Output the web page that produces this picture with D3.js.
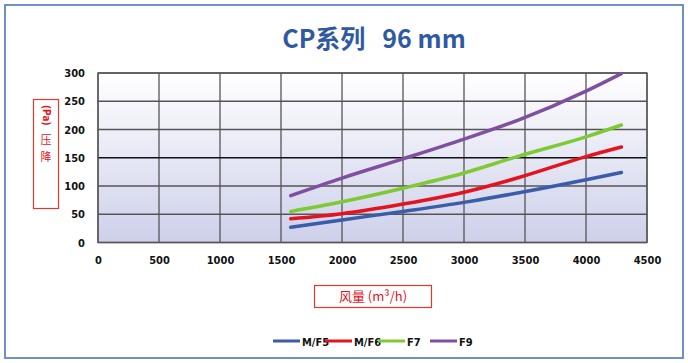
<!DOCTYPE html>
<html><head><meta charset="utf-8">
<script src="https://cdn.jsdelivr.net/npm/d3@7"></script>
<style>
html,body{margin:0;padding:0;background:#fff;}
svg text{font-family:"Liberation Sans Narrow","DejaVu Sans Condensed","Noto Sans CJK SC",sans-serif;font-weight:bold;}
</style></head>
<body><svg id="c" width="688" height="363"></svg>
<script>
const title = "CP系列   96 mm";
const xLabel = "风量 (m³/h)";
const yLabelUnit = "(Pa)";
const yLabelChars = ["压","降"];
const xTicks = [0,500,1000,1500,2000,2500,3000,3500,4000,4500];
const yTicks = [0,50,100,150,200,250,300];
const flow = [1580,2000,2500,3000,3450,4000,4290];
const seriesNames = ["M/F5","M/F6","F7","F9"];
const mf5 = [27,40,55,71,88,111,124];
const mf6 = [42,51,68,89,115,152,169];
const f7  = [55,72,96,123,153,187,208];
const f9  = [83,114,148,183,217,268,299];
const colors = ["#3b5ca8","#e3141f","#7fc934","#8050a0"];
const seriesData = [mf5,mf6,f7,f9];

const svg = d3.select("#c");
svg.append("rect").attr("x",5).attr("y",5).attr("width",678).attr("height",353)
  .attr("fill","#fff").attr("stroke","#7390c6").attr("stroke-width",2);

const x = d3.scaleLinear().domain([0,4500]).range([98,647]);
const y = d3.scaleLinear().domain([0,300]).range([242.5,73]);

const defs = svg.append("defs");
const g = defs.append("linearGradient").attr("id","bg").attr("x1",0).attr("y1",0).attr("x2",0).attr("y2",1);
g.append("stop").attr("offset","0%").attr("stop-color","#ffffff");
g.append("stop").attr("offset","100%").attr("stop-color","#cdd0ea");

svg.append("rect").attr("x",x(0)).attr("y",y(300)).attr("width",x(4500)-x(0)).attr("height",y(0)-y(300))
  .attr("fill","url(#bg)");

// grid
svg.append("g").selectAll("line").data(xTicks).join("line")
  .attr("x1",d=>x(d)).attr("x2",d=>x(d)).attr("y1",y(0)).attr("y2",y(300))
  .attr("stroke","#555").attr("stroke-width",1.3);
svg.append("g").selectAll("line").data(yTicks).join("line")
  .attr("x1",x(0)).attr("x2",x(4500)).attr("y1",d=>y(d)).attr("y2",d=>y(d))
  .attr("stroke",d=>d===150?"#111":"#555").attr("stroke-width",1.3);
svg.append("rect").attr("x",x(0)).attr("y",y(300)).attr("width",x(4500)-x(0)).attr("height",y(0)-y(300))
  .attr("fill","none").attr("stroke","#555").attr("stroke-width",1.3);

// axes labels via d3 axes
const xa = svg.append("g").attr("transform",`translate(0,${y(0)})`)
  .call(d3.axisBottom(x).tickValues(xTicks).tickSize(0).tickPadding(14).tickFormat(d3.format("d")));
xa.select(".domain").remove();
xa.selectAll("text").attr("font-size",11).attr("fill","#111").style("font-family",'"Liberation Sans Narrow","DejaVu Sans Condensed",sans-serif');
const ya = svg.append("g").attr("transform",`translate(${x(0)},0)`)
  .call(d3.axisLeft(y).tickValues(yTicks).tickSize(0).tickPadding(13).tickFormat(d3.format("d")));
ya.select(".domain").remove();
ya.selectAll("text").attr("font-size",11).attr("fill","#111").style("font-family",'"Liberation Sans Narrow","DejaVu Sans Condensed",sans-serif');

// lines
const line = d3.line().x((d,i)=>x(flow[i])).y(d=>y(d)).curve(d3.curveMonotoneX);
seriesData.forEach((s,k)=>{
  svg.append("path").attr("d",line(s)).attr("fill","none").attr("stroke",colors[k])
    .attr("stroke-width",3.5).attr("stroke-linecap","round");
});

// title
svg.append("text").attr("x",374).attr("y",48).attr("text-anchor","middle")
  .attr("font-size",25).attr("fill","#2f59a3").attr("xml:space","preserve")
  .style("font-family",'"Liberation Sans Narrow","Noto Sans CJK SC",sans-serif').text(title);

// y label box
svg.append("rect").attr("x",33.5).attr("y",99.5).attr("width",25).attr("height",109)
  .attr("fill","#fff").attr("stroke","#e03a2a").attr("stroke-width",1.2);
svg.append("text").attr("transform","translate(42.5,105) rotate(90)").attr("font-size",10)
  .attr("fill","#e0141e").text(yLabelUnit);
const yl = svg.append("text").attr("text-anchor","middle").attr("font-size",11)
  .attr("fill","#e0141e").style("font-family",'"Noto Sans CJK SC",sans-serif').style("font-weight","normal");
yLabelChars.forEach((c,i)=>{
  yl.append("tspan").attr("x",46).attr("y",144+i*17).text(c);
});

// x label box
svg.append("rect").attr("x",314.5).attr("y",285.5).attr("width",117).attr("height",22)
  .attr("fill","#fff").attr("stroke","#e03a2a").attr("stroke-width",1.2);
svg.append("text").attr("x",373).attr("y",301).attr("text-anchor","middle").attr("font-size",13)
  .attr("fill","#e0141e").style("font-family",'"Noto Sans CJK SC",sans-serif').style("font-weight","normal").text(xLabel);

// legend
const legX = [273,325,378,430];
const leg = svg.append("g");
seriesNames.forEach((n,k)=>{
  leg.append("line").attr("x1",legX[k]).attr("x2",legX[k]+27).attr("y1",341).attr("y2",341)
    .attr("stroke",colors[k]).attr("stroke-width",3);
  leg.append("text").attr("x",legX[k]+29).attr("y",345.5).attr("font-size",11).attr("fill","#111").text(n);
});
</script></body></html>
